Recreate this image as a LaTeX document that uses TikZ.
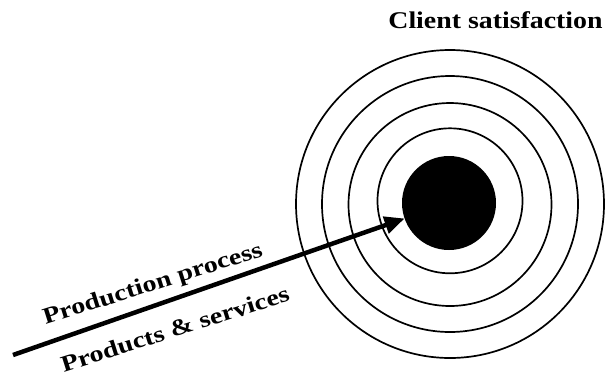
\documentclass[tikz,border=0pt]{standalone}
\usepackage{fontspec}
\setmainfont{Liberation Serif}
\newfontfamily\lblfont[FakeStretch=1.22]{Liberation Serif}
\newfontfamily\ttlfont[FakeStretch=1.16]{Liberation Serif}
\usetikzlibrary{arrows.meta}
\begin{document}
\begin{tikzpicture}[x=1pt,y=-1pt,
  ring/.style={draw=black, line width=1.7pt, circle, inner sep=0pt, outer sep=0pt},
  lbl/.style={font=\lblfont\bfseries\fontsize{23}{23}\selectfont, inner sep=0pt},
  ttl/.style={font=\ttlfont\bfseries\fontsize{24}{24}\selectfont, inner sep=0pt},
  ]
\useasboundingbox[fill=white] (0,0) rectangle (605,376);
% rings
\node[ring, minimum size=308pt] (r4) at (450,204) {};
\node[ring, minimum size=256pt] (r3) at (450,204) {};
\node[ring, minimum size=203pt] (r2) at (450,204.5) {};
\node[ring, minimum size=145pt] (r1) at (450,200.8) {};
% bull's eye
\node[circle, fill=black, minimum size=94pt, inner sep=0pt, outer sep=0pt] (target) at (449,203) {};
% title
\node[ttl, anchor=base] (title) at (495.5,28) {Client satisfaction};
% arrow
\coordinate (start) at (13,355);
\draw[line width=4.5pt, -{Triangle[length=20pt,width=17pt]}] (start) -- (target);
% labels
\node[lbl, rotate=17.5] (prod) at (153,285) {Production process};
\node[lbl, rotate=17.5] (serv) at (175,329) {Products \& services};
\end{tikzpicture}
\end{document}
